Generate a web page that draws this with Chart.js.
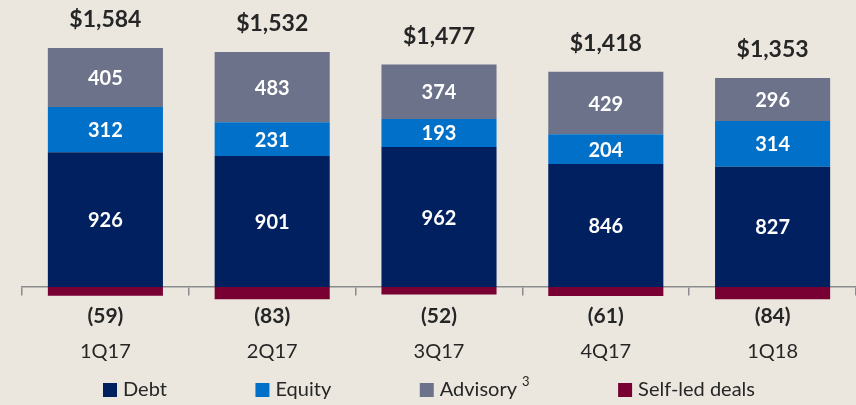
<!DOCTYPE html>
<html>
<head>
<meta charset="utf-8">
<script src="https://cdn.jsdelivr.net/npm/chart.js@4"></script>
<style>
html, body { margin: 0; padding: 0; background: #EBE7DF; overflow: hidden; }
#wrap { width: 856px; height: 405px; position: relative; }
</style>
</head>
<body>
<div id="wrap"><canvas id="myChart"></canvas></div>
<script>
// data ($ millions)
var quarters = ['1Q17', '2Q17', '3Q17', '4Q17', '1Q18'];
var debtVal = [926, 901, 962, 846, 827];
var equityVal = [312, 231, 193, 204, 314];
var advisoryVal = [405, 483, 374, 429, 296];
var selfLedVal = [-59, -83, -52, -61, -84];
var seriesNames = ['Debt', 'Equity', 'Advisory', 'Self-led deals'];
var seriesColors = ['#002060', '#0070C8', '#6C7289', '#780032'];

var txtColor = '#262626';
var fontName = 'Lato, "Open Sans", sans-serif';

function fmtMoney(v) {
	return '$' + v.toLocaleString('en-US');
}

// numbers on the bars, totals on top, negatives under the axis
var labelPlugin = {
	id: 'barLabels',
	afterDatasetsDraw: function(chart) {
		var ctx = chart.ctx;
		var yS = chart.scales.y;
		var zero = yS.getPixelForValue(0);
		ctx.save();
		ctx.textAlign = 'center';
		ctx.textBaseline = 'middle';

		for (var d = 0; d < 3; d++) {
			var meta = chart.getDatasetMeta(d);
			for (var i = 0; i < meta.data.length; i++) {
				var c = meta.data[i].getCenterPoint();
				ctx.fillStyle = '#ffffff';
				ctx.font = 'bold 20px ' + fontName;
				ctx.fillText(chart.data.datasets[d].data[i], c.x, c.y + 1);
			}
		}

		var negMeta = chart.getDatasetMeta(3);
		for (var i = 0; i < quarters.length; i++) {
			var bx = negMeta.data[i].x;
			var pos = debtVal[i] + equityVal[i] + advisoryVal[i];
			var total = pos + selfLedVal[i];
			ctx.fillStyle = txtColor;
			ctx.font = 'bold 23px ' + fontName;
			ctx.fillText(fmtMoney(total), bx, yS.getPixelForValue(pos) - 28);
			ctx.font = 'bold 21px ' + fontName;
			ctx.fillText('(' + Math.abs(selfLedVal[i]) + ')', bx, zero + 29);
		}
		ctx.restore();
	}
};

// legend row at the bottom (own drawing so the gaps can be wide)
var legendPlugin = {
	id: 'bottomLegend',
	afterDraw: function(chart) {
		var ctx = chart.ctx;
		var box = 14, gapTxt = 6;
		var left = 103, right = 755, yMid = 390;
		ctx.save();
		ctx.font = '20px ' + fontName;
		var widths = [];
		var sum = 0;
		for (var i = 0; i < seriesNames.length; i++) {
			var w = box + gapTxt + ctx.measureText(seriesNames[i]).width;
			if (i == 2) {
				ctx.font = '13px ' + fontName;
				w += 5 + ctx.measureText('3').width;
				ctx.font = '20px ' + fontName;
			}
			widths.push(w);
			sum += w;
		}
		var gap = (right - left - sum) / (seriesNames.length - 1);
		var x = left;
		ctx.textBaseline = 'middle';
		ctx.textAlign = 'left';
		for (var i = 0; i < seriesNames.length; i++) {
			ctx.fillStyle = seriesColors[i];
			ctx.fillRect(x, yMid - box / 2, box, box);
			ctx.fillStyle = txtColor;
			ctx.font = '20px ' + fontName;
			ctx.fillText(seriesNames[i], x + box + gapTxt, yMid);
			if (i == 2) {
				var tw = ctx.measureText(seriesNames[i]).width;
				ctx.font = '13px ' + fontName;
				ctx.fillText('3', x + box + gapTxt + tw + 5, yMid - 8);
			}
			x += widths[i] + gap;
		}
		ctx.restore();
	}
};

var ctx = document.getElementById('myChart').getContext('2d');
var myChart = new Chart(ctx, {
	type: 'bar',
	data: {
		labels: quarters,
		datasets: [
			{ label: seriesNames[0], data: debtVal, backgroundColor: seriesColors[0] },
			{ label: seriesNames[1], data: equityVal, backgroundColor: seriesColors[1] },
			{ label: seriesNames[2], data: advisoryVal, backgroundColor: seriesColors[2] },
			{ label: seriesNames[3], data: selfLedVal, backgroundColor: seriesColors[3] }
		]
	},
	options: {
		responsive: true,
		maintainAspectRatio: false,
		animation: false,
		layout: { padding: { top: 10, bottom: 35, left: 22, right: 0 } },
		datasets: { bar: { barPercentage: 0.69, categoryPercentage: 1, borderWidth: 0 } },
		plugins: {
			legend: { display: false },
			tooltip: { enabled: false }
		},
		scales: {
			x: {
				stacked: true,
				position: { y: 0 },
				border: { display: true, color: '#8C8C8C', width: 1.5 },
				grid: { display: true, offset: true, drawOnChartArea: false, drawTicks: true, tickLength: 8, color: '#8C8C8C', lineWidth: 1.5 },
				ticks: { color: txtColor, font: { family: fontName, size: 20 }, padding: 44, autoSkip: false, maxRotation: 0 }
			},
			y: {
				stacked: true,
				display: false,
				min: -570,
				max: 1904
			}
		}
	},
	plugins: [labelPlugin, legendPlugin]
});
</script>
</body>
</html>
